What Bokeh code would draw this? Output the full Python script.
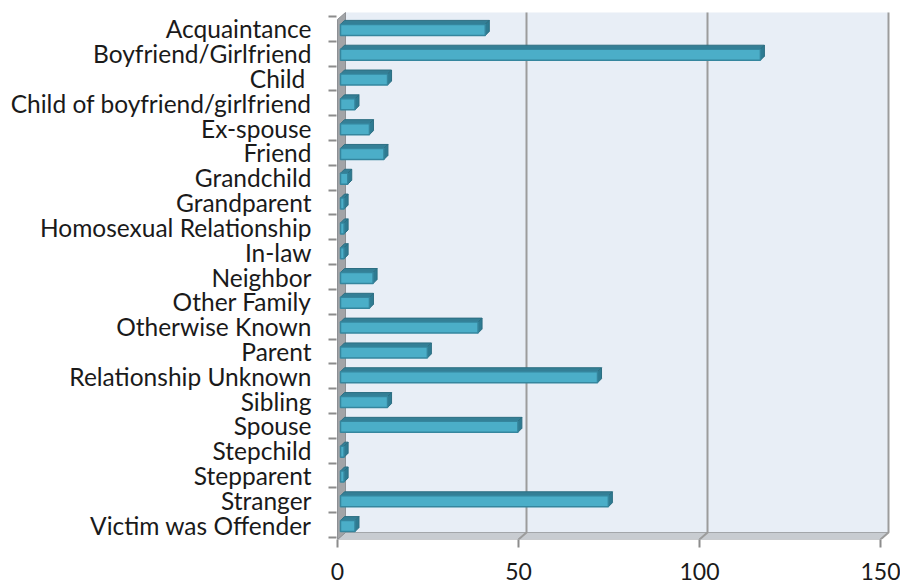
from bokeh.plotting import figure
from bokeh.models import Range1d, FixedTicker
from bokeh.embed import file_html
from bokeh.resources import INLINE

categories = ["Acquaintance", "Boyfriend/Girlfriend", "Child ", "Child of boyfriend/girlfriend",
              "Ex-spouse", "Friend", "Grandchild", "Grandparent", "Homosexual Relationship",
              "In-law", "Neighbor", "Other Family", "Otherwise Known", "Parent",
              "Relationship Unknown", "Sibling", "Spouse", "Stepchild", "Stepparent",
              "Stranger", "Victim was Offender"]
counts = [40, 116, 13, 4, 8, 12, 2, 1, 1, 1, 9, 8, 38, 24, 71, 13, 49, 1, 1, 74, 4]
x_ticks = [0, 50, 100, 150]

FONT = "Lato"
W, H = 900, 585
FL, FR, FT, FB = 336, 893, 10, 539         # frame edges in canvas px
SX = 3.62                                  # px per unit along x
n = len(categories)
SY = (FB - FT) / (n + 8 / 24.81)
PX, PY = 1 / SX, 1 / SY

x0 = -1 * PX
x1 = x0 + (FR - FL) * PX
y_bottom = (n - 0.5) + 2 * PY
y_top = -0.5 - 6 * PY

p = figure(width=W, height=H, output_backend="svg", toolbar_location=None,
           x_range=Range1d(x0, x1), y_range=Range1d(y_bottom, y_top),
           min_border_left=FL, min_border_right=W - FR, min_border_top=FT,
           min_border_bottom=H - FB)
p.outline_line_color = None
p.background_fill_color = "white"
p.border_fill_color = "white"
p.xgrid.visible = False
p.ygrid.visible = False

# 3D box geometry (depth offsets in data units)
DX, DY = 8 * PX, 7 * PY
xmax = x_ticks[-1]
wall_top = y_top + 2 * PY
floor_back = y_bottom - DY

# back wall
p.quad(left=[DX], right=[xmax + DX], top=[wall_top], bottom=[floor_back],
       fill_color="#E8EEF6", line_color=None)
# floor
p.patch([0, DX, xmax + DX, xmax], [y_bottom, floor_back, floor_back, y_bottom],
        fill_color="#C8CCD1", line_color="#A3A6AA", line_width=1)
# left wall
p.patch([0, DX, DX, 0], [wall_top + DY, wall_top, floor_back, y_bottom],
        fill_color="#A2A4A7", line_color="#8E9094", line_width=1)
# gridlines on back wall + floor
gx, gy = [], []
for t in x_ticks[1:]:
    gx.append([t + DX, t + DX, t])
    gy.append([wall_top, floor_back, y_bottom])
p.multi_line(gx, gy, line_color="#9C9C9C", line_width=2)

# 3D bars
BO = 3 * PX
hh = 5.5 * PY
bdx, bdy = 4 * PX, 4 * PY
fronts_l, fronts_r, fronts_t, fronts_b = [], [], [], []
tops_x, tops_y, sides_x, sides_y = [], [], [], []
for i, v in enumerate(counts):
    l, r = BO, v + BO
    t, b = i - hh + 1 * PY, i + hh + 1 * PY
    fronts_l.append(l); fronts_r.append(r); fronts_t.append(t); fronts_b.append(b)
    tops_x.append([l, l + bdx, r + bdx, r])
    tops_y.append([t, t - bdy, t - bdy, t])
    sides_x.append([r, r + bdx, r + bdx, r])
    sides_y.append([t, t - bdy, b - bdy, b])

p.patches(tops_x, tops_y, fill_color="#347F96", line_color="#2C6E82", line_width=1)
p.patches(sides_x, sides_y, fill_color="#2E7B92", line_color="#2C6E82", line_width=1)
p.quad(left=fronts_l, right=fronts_r, top=fronts_t, bottom=fronts_b,
       fill_color="#4BAEC8", line_color="#35869E", line_width=1.5)

# y axis (categories)
ya = p.yaxis[0]
ya.ticker = FixedTicker(ticks=list(range(n)), minor_ticks=[k - 0.5 for k in range(n + 1)])
ya.major_label_overrides = {k: c for k, c in enumerate(categories)}
ya.axis_line_color = None
ya.major_tick_line_color = None
ya.major_tick_in = 0
ya.major_tick_out = 0
ya.minor_tick_in = 0
ya.minor_tick_out = 8
ya.minor_tick_line_color = "#8C8C8C"
ya.minor_tick_line_width = 2
ya.major_label_standoff = 17
ya.major_label_text_font = FONT
ya.major_label_text_font_size = "24.5px"
ya.major_label_text_color = "#1A1A1A"

# x axis
xa = p.xaxis[0]
xa.ticker = FixedTicker(ticks=x_ticks, minor_ticks=[])
xa.axis_line_color = None
xa.major_tick_in = 0
xa.major_tick_out = 8
xa.major_tick_line_color = "#8C8C8C"
xa.major_tick_line_width = 2
xa.major_label_standoff = 15
xa.major_label_text_font = FONT
xa.major_label_text_font_size = "23px"
xa.major_label_text_color = "#1A1A1A"

open("out.html", "w").write(file_html(p, INLINE))
